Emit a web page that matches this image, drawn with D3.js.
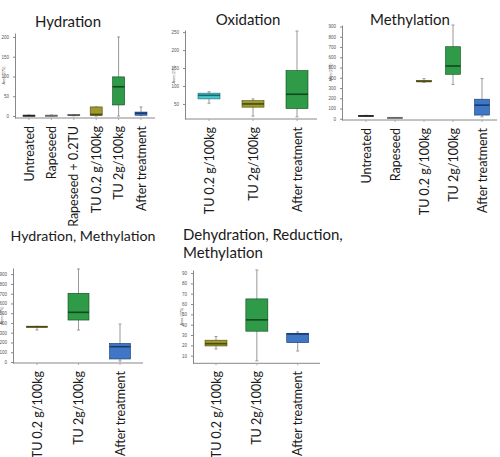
<!DOCTYPE html>
<html><head><meta charset="utf-8">
<script src="https://cdn.jsdelivr.net/npm/d3@7/dist/d3.min.js"></script>
<style>body{margin:0;background:#fff}svg{display:block}</style>
</head><body><svg id="c" width="500" height="457"></svg>
<script>
// ---------- data ----------
const hydrationCats = ["Untreated","Rapeseed","Rapeseed + 0.2TU","TU 0.2 g/100kg","TU 2g/100kg","After treatment"];
// [min, q1, median, q3, max]
const hydrationStats = [[0,0.5,1,2,2.5],[0,0.5,1,2,2.5],[0.5,1.5,2,3.5,4],[0,1,4,23,23],[0,28,74,99,200],[1,2,7,10,23]];
const hydrationTicks = [0,50,100,150,200];

const oxidationCats = ["TU 0.2 g/100kg","TU 2g/100kg","After treatment"];
const oxidationStats = [[52,64,74,80,84],[16,41,50,59,64],[14,37,77,143,253]];
const oxidationTicks = [50,100,150,200,250];

const methylationCats = ["Untreated","Rapeseed","TU 0.2 g/100kg","TU 2g/100kg","After treatment"];
const methylationStats = [[22,24,28,31,34],[8,9,10,11,12],[356,360,366,372,392],[334,434,515,703,915],[19,36,133,191,392]];
const methylationTicks = [0,100,200,300,400,500,600,700,800,900];

const hydMethCats = ["TU 0.2 g/100kg","TU 2g/100kg","After treatment"];
const hydMethStats = [[328,355,362,366,366],[328,430,509,704,953],[10,31,157,191,389]];
const hydMethTicks = [0,100,200,300,400,500,600,700,800,900];

const dehydCats = ["TU 0.2 g/100kg","TU 2g/100kg","After treatment"];
const dehydStats = [[16.5,19.4,21.6,25,28.6],[5,33.7,44.7,65,93],[14.5,22.6,31,31.7,33]];
const dehydTicks = [10,20,30,40,50,60,70,80,90];

// colours per category label
const colorMap = {
  "Untreated": {fill:"#d9d9d9", dark:"#222"},
  "Rapeseed": {fill:"#d9d9d9", dark:"#666"},
  "Rapeseed + 0.2TU": {fill:"#d9d9d9", dark:"#555"},
  "TU 0.2 g/100kg": {fill:"#9c9a2c", dark:"#4b4a10"},
  "TU 2g/100kg": {fill:"#2f9a48", dark:"#0f4a1d"},
  "After treatment": {fill:"#3f76c6", dark:"#173a6e"}
};
const oxColor = {"TU 0.2 g/100kg":{fill:"#4ac6cf",dark:"#17696e"},"TU 2g/100kg":{fill:"#9c9a2c",dark:"#4b4a10"},"After treatment":{fill:"#2f9a48",dark:"#0f4a1d"}};

const svg = d3.select("#c");
const FONT = "Lato, 'Open Sans', sans-serif";

function panel(o){
  const g = svg.append("g");
  const x = d3.scalePoint().domain(o.cats).range([o.x0, o.x1]);
  const y = d3.scaleLinear().domain(o.ydom).range([o.yb, o.yt]);
  // y axis
  const ya = g.append("g").attr("transform",`translate(${o.ax},0)`)
    .call(d3.axisLeft(y).tickValues(o.ticks).tickSize(2).tickSizeOuter(0).tickPadding(4));
  ya.select(".domain").attr("stroke","#888");
  ya.selectAll(".tick line").attr("stroke","#888");
  ya.selectAll("text").attr("font-size",4.5).attr("fill","#555").attr("font-family","Arial");
  // y title
  g.append("text").attr("transform",`translate(${o.ax-10},${(o.yb+o.yt)/2}) rotate(-90)`)
    .attr("text-anchor","middle").attr("font-size",3.8).attr("fill","#555").attr("font-family","Arial").text("Area (275)");
  // x axis
  const xa = g.append("g");
  xa.append("line").attr("x1",o.ax).attr("x2",o.xend).attr("y1",o.yb).attr("y2",o.yb).attr("stroke","#888");
  xa.selectAll("line.t").data(o.cats).join("line").attr("class","t")
    .attr("x1",d=>x(d)).attr("x2",d=>x(d)).attr("y1",o.yb).attr("y2",o.yb+2).attr("stroke","#aaa");
  xa.selectAll("text").data(o.cats).join("text")
    .attr("transform",d=>`translate(${x(d)+0.36*o.fs},${o.lab}) rotate(-90)`)
    .attr("text-anchor","end").attr("font-size",o.fs).attr("font-family",FONT).attr("fill","#1a1a1a").text(d=>d);
  // boxes
  const cm = o.colors;
  const bw = o.bw;
  o.stats.forEach((s,i)=>{
    const c = o.cats[i], cx = x(c), col = cm[c];
    g.append("line").attr("x1",cx).attr("x2",cx).attr("y1",y(s[0])).attr("y2",y(s[4])).attr("stroke","#999").attr("stroke-width",1);
    g.append("line").attr("x1",cx-1.5).attr("x2",cx+1.5).attr("y1",y(s[0])).attr("y2",y(s[0])).attr("stroke","#999");
    g.append("line").attr("x1",cx-1.5).attr("x2",cx+1.5).attr("y1",y(s[4])).attr("y2",y(s[4])).attr("stroke","#999");
    g.append("rect").attr("x",cx-bw/2).attr("width",bw).attr("y",y(s[3])).attr("height",Math.max(1,y(s[1])-y(s[3])))
      .attr("fill",col.fill).attr("stroke",col.dark).attr("stroke-width",0.6);
    g.append("line").attr("x1",cx-bw/2).attr("x2",cx+bw/2).attr("y1",y(s[2])).attr("y2",y(s[2])).attr("stroke",col.dark).attr("stroke-width",1.6);
  });
  // title
  o.title.forEach((t,k)=>{
    g.append("text").attr("x",o.tx).attr("y",o.ty+k*18).attr("text-anchor",o.tanchor||"middle")
      .attr("font-size",o.tfs||15).attr("font-family",FONT).attr("fill","#1a1a1a").text(t);
  });
}

const LFS = 12.5;
panel({cats:hydrationCats, stats:hydrationStats, ticks:hydrationTicks, colors:colorMap,
  x0:29, x1:141, ax:15, xend:155, ydom:[-5,210], yb:118, yt:33, lab:126, fs:LFS, bw:12,
  title:["Hydration"], tx:68, ty:27});
panel({cats:oxidationCats, stats:oxidationStats, ticks:oxidationTicks, colors:oxColor,
  x0:209, x1:297, ax:185, xend:317, ydom:[8,256], yb:119, yt:30, lab:127, fs:LFS, bw:22,
  title:["Oxidation"], tx:248, ty:25});
panel({cats:methylationCats, stats:methylationStats, ticks:methylationTicks, colors:colorMap,
  x0:366, x1:482, ax:342, xend:497, ydom:[-12,915], yb:120, yt:25, lab:128, fs:LFS, bw:15,
  title:["Methylation"], tx:410, ty:25});
panel({cats:hydMethCats, stats:hydMethStats, ticks:hydMethTicks, colors:colorMap,
  x0:37, x1:120, ax:13, xend:143, ydom:[-10,963], yb:363, yt:268, lab:371, fs:LFS, bw:21,
  title:["Hydration, Methylation"], tx:83, ty:241, tfs:14.2});
panel({cats:dehydCats, stats:dehydStats, ticks:dehydTicks, colors:colorMap,
  x0:216, x1:297.7, ax:193, xend:320, ydom:[2.6,93], yb:363.3, yt:270, lab:371, fs:LFS, bw:22,
  title:["Dehydration, Reduction,","Methylation"], tx:183, ty:240, tanchor:"start"});
</script></body></html>
